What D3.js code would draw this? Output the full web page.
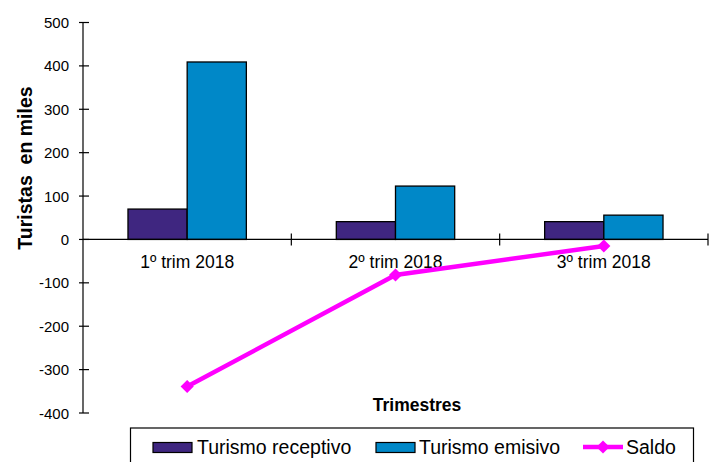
<!DOCTYPE html>
<html>
<head>
<meta charset="utf-8">
<script src="https://cdn.jsdelivr.net/npm/d3@7/dist/d3.min.js"></script>
<style>
  body { margin: 0; background: #fff; }
  svg { display: block; }
</style>
</head>
<body>
<div id="chart"></div>
<script>
// data (thousands of tourists)
var categories = ['1º trim 2018', '2º trim 2018', '3º trim 2018'];
var receptivo = [70, 41, 41];
var emisivo = [409, 123, 56];
var saldo = [-339, -82, -15];
var yTicks = [-400, -300, -200, -100, 0, 100, 200, 300, 400, 500];
var seriesNames = ['Turismo receptivo', 'Turismo emisivo'];
var seriesColors = ['#3f2680', '#0088c8'];

var width = 718, height = 462;

var svg = d3.select('#chart').append('svg')
    .attr('width', width)
    .attr('height', height);

var x = d3.scaleBand()
    .domain(categories)
    .range([83, 708])
    .paddingInner(0)
    .paddingOuter(0);

var xInner = d3.scaleBand()
    .domain(seriesNames)
    .range([0, x.bandwidth()])
    .paddingInner(0)
    .paddingOuter(0.76);

var y = d3.scaleLinear()
    .domain([-400, 500])
    .range([413, 22.5]);

// bars
var rows = categories.map(function(c, i) {
    return { cat: c, values: [receptivo[i], emisivo[i]] };
});

var groups = svg.selectAll('g.cat')
    .data(rows)
    .enter().append('g')
    .attr('class', 'cat')
    .attr('transform', function(d) { return 'translate(' + x(d.cat) + ',0)'; });

groups.selectAll('rect')
    .data(function(d) { return d.values.map(function(v, j) { return { name: seriesNames[j], v: v, color: seriesColors[j] }; }); })
    .enter().append('rect')
    .attr('x', function(d) { return xInner(d.name); })
    .attr('y', function(d) { return y(Math.max(0, d.v)); })
    .attr('width', xInner.bandwidth())
    .attr('height', function(d) { return Math.abs(y(d.v) - y(0)); })
    .attr('fill', function(d) { return d.color; })
    .attr('stroke', '#000')
    .attr('stroke-width', 1.3);

// y axis (ticks crossing the line)
var yAxis = svg.append('g')
    .attr('transform', 'translate(83,0)');
yAxis.append('line')
    .attr('x1', 0).attr('x2', 0)
    .attr('y1', y(500)).attr('y2', y(-400))
    .attr('stroke', '#000').attr('stroke-width', 1.2);
yAxis.selectAll('line.tick')
    .data(yTicks)
    .enter().append('line')
    .attr('class', 'tick')
    .attr('x1', -4).attr('x2', 6)
    .attr('y1', function(d) { return y(d); })
    .attr('y2', function(d) { return y(d); })
    .attr('stroke', '#000').attr('stroke-width', 1.2);
yAxis.selectAll('text')
    .data(yTicks)
    .enter().append('text')
    .attr('x', -14)
    .attr('y', function(d) { return y(d) + 5.5; })
    .attr('text-anchor', 'end')
    .attr('font-family', 'Liberation Sans, Arial, sans-serif')
    .attr('font-size', 15)
    .attr('fill', '#000')
    .text(function(d) { return d; });

// x axis at zero
var xAxis = svg.append('g');
xAxis.append('line')
    .attr('x1', 83).attr('x2', 708)
    .attr('y1', y(0)).attr('y2', y(0))
    .attr('stroke', '#000').attr('stroke-width', 1.2);
xAxis.selectAll('line.tick')
    .data(categories)
    .enter().append('line')
    .attr('class', 'tick')
    .attr('x1', function(d) { return x(d) + x.bandwidth(); })
    .attr('x2', function(d) { return x(d) + x.bandwidth(); })
    .attr('y1', y(0) - 6).attr('y2', y(0) + 6)
    .attr('stroke', '#000').attr('stroke-width', 1.2);
xAxis.selectAll('text')
    .data(categories)
    .enter().append('text')
    .attr('x', function(d) { return x(d) + x.bandwidth() / 2; })
    .attr('y', 268)
    .attr('text-anchor', 'middle')
    .attr('font-family', 'Liberation Sans, Arial, sans-serif')
    .attr('font-size', 17.5)
    .attr('fill', '#000')
    .text(function(d) { return d; });

// saldo line
var line = d3.line()
    .x(function(d, i) { return x(categories[i]) + x.bandwidth() / 2; })
    .y(function(d) { return y(d); });

svg.append('path')
    .datum(saldo)
    .attr('d', line)
    .attr('fill', 'none')
    .attr('stroke', '#ff00ff')
    .attr('stroke-width', 4.5);

var diamond = d3.symbol().type(d3.symbolDiamond2).size(110);
svg.selectAll('path.mark')
    .data(saldo)
    .enter().append('path')
    .attr('class', 'mark')
    .attr('d', diamond)
    .attr('transform', function(d, i) {
        return 'translate(' + (x(categories[i]) + x.bandwidth() / 2) + ',' + y(d) + ')';
    })
    .attr('fill', '#ff00ff');

// axis titles
svg.append('text')
    .attr('transform', 'translate(32,168) rotate(-90)')
    .attr('text-anchor', 'middle')
    .attr('font-family', 'Liberation Sans, Arial, sans-serif')
    .attr('font-weight', 'bold')
    .attr('font-size', 19.5)
    .attr('xml:space', 'preserve')
    .style('white-space', 'pre')
    .text('Turistas  en miles');

svg.append('text')
    .attr('x', 417)
    .attr('y', 411)
    .attr('text-anchor', 'middle')
    .attr('font-family', 'Liberation Sans, Arial, sans-serif')
    .attr('font-weight', 'bold')
    .attr('font-size', 17.5)
    .text('Trimestres');

// legend
var legend = svg.append('g');
legend.append('rect')
    .attr('x', 130.5).attr('y', 428)
    .attr('width', 563).attr('height', 50)
    .attr('fill', '#fff')
    .attr('stroke', '#000').attr('stroke-width', 1.2);

var legendItems = [
    { name: seriesNames[0], color: seriesColors[0], kind: 'bar', x: 153, tx: 197 },
    { name: seriesNames[1], color: seriesColors[1], kind: 'bar', x: 376, tx: 419 },
    { name: 'Saldo', color: '#ff00ff', kind: 'line', x: 583, tx: 626 }
];

legendItems.forEach(function(it) {
    if (it.kind === 'bar') {
        legend.append('rect')
            .attr('x', it.x).attr('y', 442.5)
            .attr('width', 39).attr('height', 10)
            .attr('fill', it.color)
            .attr('stroke', '#000').attr('stroke-width', 1.2);
    } else {
        legend.append('line')
            .attr('x1', it.x).attr('x2', it.x + 40)
            .attr('y1', 447).attr('y2', 447)
            .attr('stroke', it.color).attr('stroke-width', 4.5);
        legend.append('path')
            .attr('d', diamond)
            .attr('transform', 'translate(' + (it.x + 20) + ',447)')
            .attr('fill', it.color);
    }
    legend.append('text')
        .attr('x', it.tx)
        .attr('y', 454)
        .attr('font-family', 'Liberation Sans, Arial, sans-serif')
        .attr('font-size', 19.5)
        .attr('fill', '#000')
        .text(it.name);
});
</script>
</body>
</html>
